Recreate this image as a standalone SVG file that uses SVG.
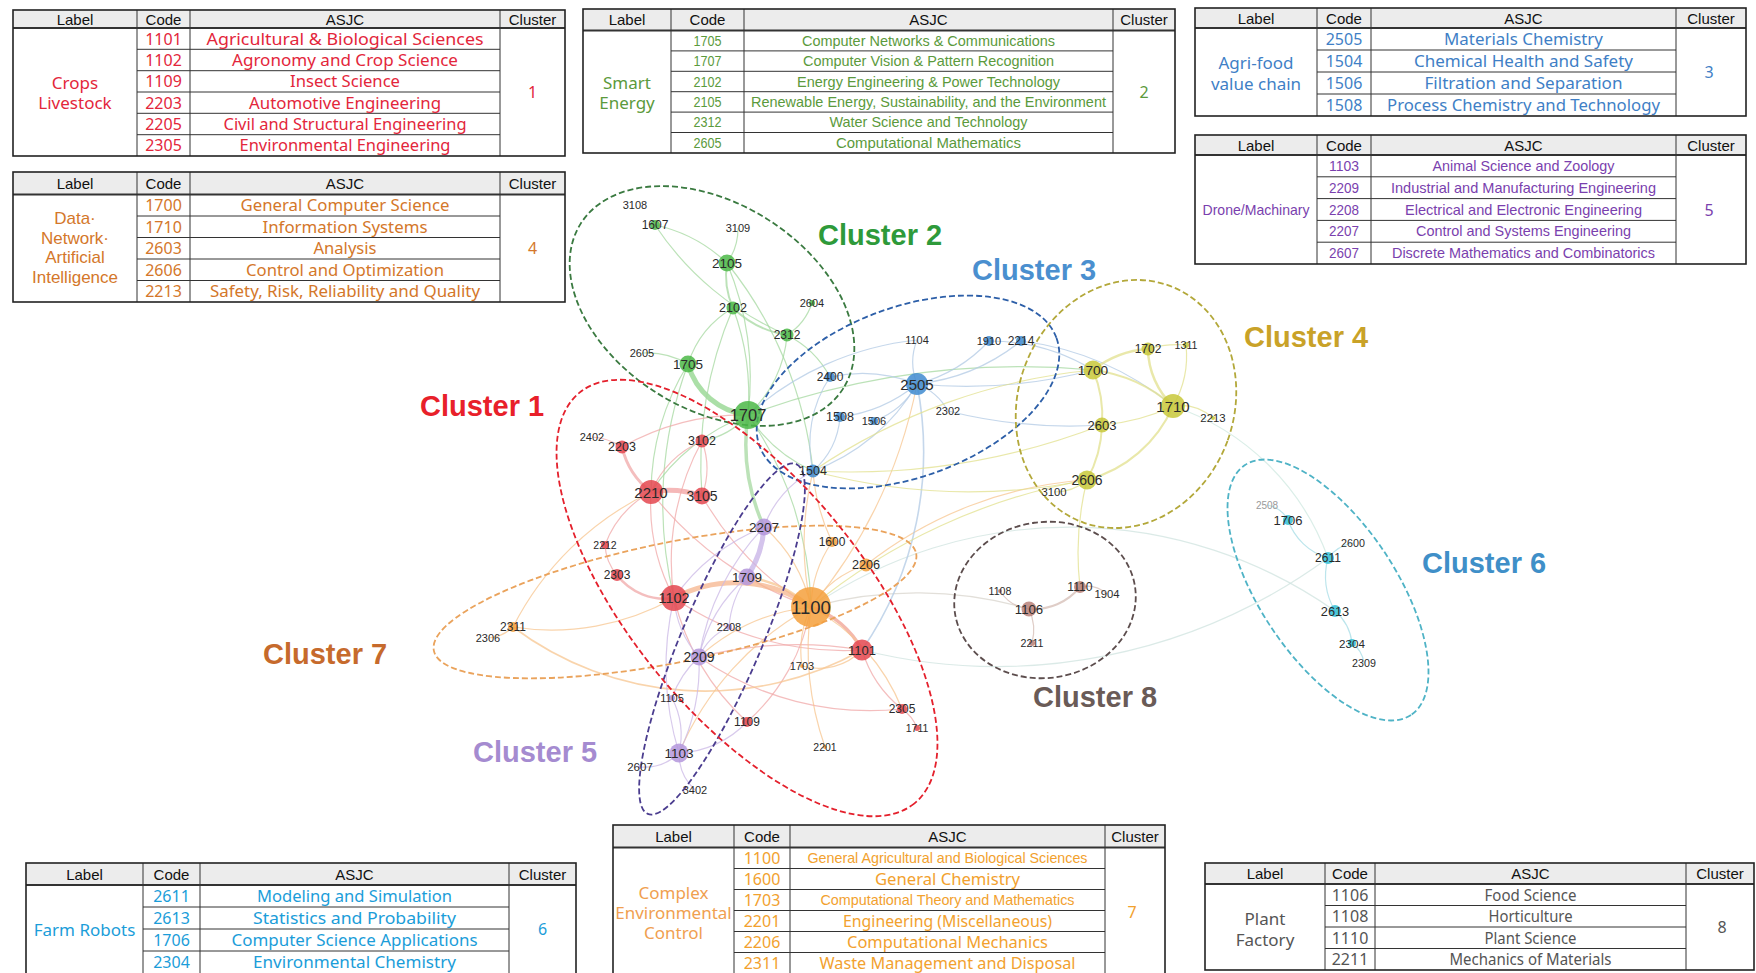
<svg xmlns="http://www.w3.org/2000/svg" width="1756" height="973" viewBox="0 0 1756 973">
<style>
.hd{fill:#ececec}
.ln{stroke:#333;stroke-width:1;fill:none}
.hl{stroke:#333;stroke-width:1.8;fill:none}
.bd{fill:none;stroke:#222;stroke-width:1.6}
.th{font-family:"Liberation Sans",Arial,sans-serif;font-size:15px;fill:#111;text-anchor:middle;dominant-baseline:central}
.td{font-family:"Noto Sans","Liberation Sans",sans-serif;font-size:16px;text-anchor:middle;dominant-baseline:central}
.tn{font-family:"Liberation Sans",Arial,sans-serif;font-size:14.5px;text-anchor:middle;dominant-baseline:central}
.lb{font-size:17px}
.lb2{font-family:"Liberation Sans",Arial,sans-serif;font-size:17px;text-anchor:middle;dominant-baseline:central}
.k1{fill:#e3263b}.k2{fill:#5b9a3c}.k3{fill:#3f7fc6}.k4{fill:#d4772a}.k5{fill:#7a3fae}.k6{fill:#1b9dd9}.k7{fill:#f2a12e}.k7l{fill:#f0a050}.k8{fill:#555}
.e{fill:none;stroke-width:1.2;stroke-opacity:.75}
.e1{stroke:#f0a8a8}.e2{stroke:#a6d8a0}.e3{stroke:#b2c9e4}.e4{stroke:#e2e08e}.e5{stroke:#cbb8e6}.e6{stroke:#a6dce6}.e7{stroke:#f7c690}.e8{stroke:#d4bcb4}
.hull{fill:none;stroke-width:1.8;stroke-dasharray:6 3}
.node circle{fill-opacity:.85}
.node text{font-family:"Liberation Sans",Arial,sans-serif;fill:#2a2a2a;text-anchor:middle;dominant-baseline:central}
.c1 circle{fill:#e4464f}.c2 circle{fill:#4cb848}.c3 circle{fill:#3f8bd0}.c4 circle{fill:#c8c83a}.c5 circle{fill:#b496dc}.c6 circle{fill:#33bfd6}.c7 circle{fill:#f5a03c}.c8 circle{fill:#b88078}
.cl{font-family:"Liberation Sans",Arial,sans-serif;font-size:29px;font-weight:bold}
</style>
<rect width="1756" height="973" fill="#fff"/>

<g id="connectors">
<g class="e e2">
<path d="M688 364A70 70 0 0 0 748 415" stroke-width="5" stroke="#8fd48a"/>
<path d="M748 415A200 200 0 0 0 764 527" stroke-width="3.5"/>
<path d="M655 225A150 150 0 0 1 727 263"/>
<path d="M655 225A300 300 0 0 0 787 335"/>
<path d="M738 228A60 60 0 0 1 727 263"/>
<path d="M727 263A80 80 0 0 0 733 308" stroke-width="2"/>
<path d="M727 263A300 300 0 0 1 748 415"/>
<path d="M733 308A100 100 0 0 0 787 335" stroke-width="2"/>
<path d="M733 308A100 100 0 0 0 688 364"/>
<path d="M733 308A250 250 0 0 1 748 415"/>
<path d="M787 335A60 60 0 0 0 812 303"/>
<path d="M787 335A120 120 0 0 1 748 415"/>
<path d="M787 335A100 100 0 0 1 830 377"/>
<path d="M642 353A80 80 0 0 1 688 364"/>
<path d="M688 364A250 250 0 0 0 651 492"/>
<path d="M688 364A400 400 0 0 0 674 598"/>
<path d="M727 263A400 400 0 0 1 813 471"/>
<path d="M748 415A80 80 0 0 1 702 441"/>
<path d="M748 415A350 350 0 0 1 811 607"/>
<path d="M748 415A150 150 0 0 0 813 471"/>
<path d="M748 415A200 200 0 0 0 651 492"/>
<path d="M733 308A400 400 0 0 0 702 496"/>
<path d="M748 415A800 800 0 0 1 1093 370"/>
</g>
<g class="e e1">
<path d="M651 492A100 100 0 0 1 702 496" stroke-width="5" stroke="#f2a0a0"/>
<path d="M811 607A90 90 0 0 1 862 650" stroke-width="3.5" stroke="#f0a090"/>
<path d="M622 447A80 80 0 0 0 651 492" stroke-width="3"/>
<path d="M617 575A60 60 0 0 0 674 598" stroke-width="2.5"/>
<path d="M592 437A60 60 0 0 1 622 447"/>
<path d="M702 441A80 80 0 0 1 702 496"/>
<path d="M702 441A100 100 0 0 0 651 492"/>
<path d="M702 441A250 250 0 0 0 674 598"/>
<path d="M651 492A200 200 0 0 0 674 598"/>
<path d="M605 545A50 50 0 0 0 617 575"/>
<path d="M605 545A100 100 0 0 1 651 492"/>
<path d="M862 650A120 120 0 0 0 902 709"/>
<path d="M902 709A40 40 0 0 1 917 728"/>
<path d="M862 650A300 300 0 0 1 674 598"/>
<path d="M747 722A250 250 0 0 1 674 598"/>
<path d="M747 722A200 200 0 0 0 811 607"/>
<path d="M699 657A300 300 0 0 0 902 709"/>
<path d="M862 650A400 400 0 0 0 699 657"/>
<path d="M651 492A350 350 0 0 0 811 607"/>
<path d="M702 496A300 300 0 0 0 811 607"/>
<path d="M622 447A250 250 0 0 1 748 415"/>
</g>
<g class="e e7">
<path d="M674 598A130 130 0 0 1 811 607" stroke-width="5" stroke="#f6b48c"/>
<path d="M747 577A120 120 0 0 1 811 607" stroke-width="2.5"/>
<path d="M811 607A120 120 0 0 1 832 542"/>
<path d="M811 607A100 100 0 0 1 866 565"/>
<path d="M811 607A100 100 0 0 0 802 666"/>
<path d="M811 607A300 300 0 0 0 825 747"/>
<path d="M811 607A200 200 0 0 1 902 709"/>
<path d="M811 607A200 200 0 0 0 699 657"/>
<path d="M811 607A150 150 0 0 0 764 527"/>
<path d="M811 607A300 300 0 0 1 813 471"/>
<path d="M811 607A300 300 0 0 0 679 753"/>
<path d="M513 627A320 320 0 0 0 862 650" stroke-width="1.6"/>
<path d="M513 627A40 40 0 0 1 488 638"/>
<path d="M513 627A300 300 0 0 1 651 492"/>
<path d="M513 627A250 250 0 0 0 674 598"/>
<path d="M811 607A400 400 0 0 1 1029 609" stroke="#d8d4cc"/>
<path d="M811 607A460 460 0 0 1 1335 611" stroke="#cfe3df"/>
<path d="M862 650A560 560 0 0 0 1328 558" stroke="#cfe3df"/>
<path d="M866 565A400 400 0 0 1 1087 480"/>
<path d="M832 542A200 200 0 0 1 813 471"/>
<path d="M811 607A500 500 0 0 0 917 384"/>
<path d="M802 666A60 60 0 0 0 862 650"/>
</g>
<g class="e e5">
<path d="M764 527A100 100 0 0 1 747 577" stroke-width="5" stroke="#c5b0e6"/>
<path d="M747 577A150 150 0 0 0 699 657"/>
<path d="M747 577A100 100 0 0 0 729 627"/>
<path d="M729 627A60 60 0 0 0 699 657"/>
<path d="M699 657A100 100 0 0 1 674 598"/>
<path d="M699 657A200 200 0 0 1 679 753"/>
<path d="M679 753A80 80 0 0 0 672 698"/>
<path d="M679 753A50 50 0 0 1 640 767"/>
<path d="M679 753A50 50 0 0 0 695 790"/>
<path d="M679 753A100 100 0 0 0 747 722"/>
<path d="M672 698A100 100 0 0 1 699 657"/>
<path d="M764 527A100 100 0 0 1 813 471"/>
<path d="M764 527A200 200 0 0 0 674 598"/>
<path d="M764 527A250 250 0 0 0 699 657"/>
<path d="M679 753A300 300 0 0 1 674 598"/>
</g>
<g class="e e3">
<path d="M917 384A60 60 0 0 1 917 340"/>
<path d="M917 384A150 150 0 0 0 989 341"/>
<path d="M917 384A200 200 0 0 0 1021 341"/>
<path d="M917 384A150 150 0 0 0 830 377"/>
<path d="M917 384A150 150 0 0 1 840 417"/>
<path d="M917 384A80 80 0 0 1 874 421"/>
<path d="M917 384A60 60 0 0 1 948 411"/>
<path d="M917 384A200 200 0 0 1 813 471"/>
<path d="M840 417A80 80 0 0 1 813 471"/>
<path d="M830 377A120 120 0 0 0 813 471"/>
<path d="M917 384A500 500 0 0 0 1093 370"/>
<path d="M989 341A200 200 0 0 1 1093 370"/>
<path d="M1021 341A300 300 0 0 1 1173 406"/>
<path d="M917 340A300 300 0 0 0 748 415"/>
<path d="M948 411A500 500 0 0 0 1102 425"/>
<path d="M917 384A350 350 0 0 1 862 650" stroke-width="1.6"/>
</g>
<g class="e e4">
<path d="M1093 370A100 100 0 0 1 1148 349" stroke-width="2.5"/>
<path d="M1148 349A80 80 0 0 0 1173 406" stroke-width="2.5"/>
<path d="M1093 370A150 150 0 0 1 1173 406" stroke-width="2"/>
<path d="M1087 480A130 130 0 0 0 1173 406" stroke-width="2"/>
<path d="M1093 370A120 120 0 0 1 1102 425" stroke-width="2"/>
<path d="M1102 425A120 120 0 0 1 1087 480" stroke-width="2"/>
<path d="M1148 349A100 100 0 0 1 1186 345"/>
<path d="M1186 345A100 100 0 0 1 1173 406"/>
<path d="M1102 425A200 200 0 0 0 1173 406"/>
<path d="M1173 406A50 50 0 0 1 1213 418"/>
<path d="M1087 480A50 50 0 0 1 1054 492"/>
<path d="M1087 480A600 600 0 0 0 811 607"/>
<path d="M1093 370A600 600 0 0 0 813 471"/>
<path d="M1087 480A600 600 0 0 1 813 471"/>
<path d="M1102 425A700 700 0 0 1 813 471"/>
<path d="M1173 406A250 250 0 0 1 1328 558" stroke="#cfe8e0"/>
<path d="M1087 480A300 300 0 0 0 1080 587"/>
</g>
<g class="e e8">
<path d="M1029 609A60 60 0 0 0 1080 587" stroke-width="2"/>
<path d="M1029 609A40 40 0 0 1 1000 591"/>
<path d="M1029 609A50 50 0 0 1 1032 643"/>
<path d="M1080 587A30 30 0 0 1 1107 594"/>
</g>
<g class="e e6">
<path d="M1288 520A60 60 0 0 0 1328 558"/>
<path d="M1267 505A30 30 0 0 1 1288 520"/>
<path d="M1328 558A40 40 0 0 1 1353 543"/>
<path d="M1328 558A70 70 0 0 0 1335 611"/>
<path d="M1335 611A50 50 0 0 1 1352 643"/>
<path d="M1352 643A30 30 0 0 1 1364 663"/>
</g>
</g>

<g id="cluster-outlines">
<ellipse class="hull" stroke="#3a7a40" cx="712" cy="306" rx="155" ry="103" transform="rotate(32 712 306)"/>
<ellipse class="hull" stroke="#2d5fa8" cx="908" cy="392" rx="158" ry="85" transform="rotate(-20 908 392)"/>
<ellipse class="hull" stroke="#b3a83a" cx="1126" cy="404" rx="108" ry="126" transform="rotate(20 1126 404)"/>
<ellipse class="hull" stroke="#eaa35c" cx="675" cy="602" rx="246" ry="60" transform="rotate(-11.4 675 602)"/>
<ellipse class="hull" stroke="#4b3d8f" cx="722" cy="639" rx="190" ry="40" transform="rotate(-67 722 639)"/>
<ellipse class="hull" stroke="#e4202c" cx="747" cy="598" rx="265" ry="117" transform="rotate(50.8 747 598)"/>
<ellipse class="hull" stroke="#5c4d4d" cx="1045" cy="600" rx="91" ry="78" transform="rotate(-8 1045 600)"/>
<ellipse class="hull" stroke="#4fb3c6" cx="1328" cy="590" rx="150" ry="68" transform="rotate(56.4 1328 590)"/>
</g>

<g id="nodes">
<g id="n2210" class="node c1"><circle cx="651" cy="492" r="12"/><text x="651" y="492" font-size="15">2210</text></g>
<g id="n3105" class="node c1"><circle cx="702" cy="496" r="8.5"/><text x="702" y="496" font-size="14">3105</text></g>
<g id="n2203" class="node c1"><circle cx="622" cy="447" r="6.5"/><text x="622" y="447" font-size="12.5">2203</text></g>
<g id="n3102" class="node c1"><circle cx="702" cy="441" r="6.5"/><text x="702" y="441" font-size="12.5">3102</text></g>
<g id="n2402" class="node c1"><text x="592" y="437" font-size="11">2402</text></g>
<g id="n1102" class="node c1"><circle cx="674" cy="598" r="13"/><text x="674" y="598" font-size="14.5">1102</text></g>
<g id="n2303" class="node c1"><circle cx="617" cy="575" r="6"/><text x="617" y="575" font-size="12">2303</text></g>
<g id="n2212" class="node c1"><circle cx="605" cy="545" r="4"/><text x="605" y="545" font-size="10.5">2212</text></g>
<g id="n1101" class="node c1"><circle cx="862" cy="650" r="10.5"/><text x="862" y="650" font-size="13">1101</text></g>
<g id="n2305" class="node c1"><circle cx="902" cy="709" r="5"/><text x="902" y="709" font-size="12">2305</text></g>
<g id="n1711" class="node c1"><circle cx="917" cy="728" r="3"/><text x="917" y="728" font-size="10.5">1711</text></g>
<g id="n1109" class="node c1"><circle cx="747" cy="722" r="5"/><text x="747" y="722" font-size="12">1109</text></g>

<g id="n1707" class="node c2"><circle cx="748" cy="415" r="14"/><text x="748" y="415" font-size="16.5">1707</text></g>
<g id="n1705" class="node c2"><circle cx="688" cy="364" r="8.5"/><text x="688" y="364" font-size="13.5">1705</text></g>
<g id="n2105" class="node c2"><circle cx="727" cy="263" r="8.5"/><text x="727" y="263" font-size="13.5">2105</text></g>
<g id="n2102" class="node c2"><circle cx="733" cy="308" r="6.5"/><text x="733" y="308" font-size="12.5">2102</text></g>
<g id="n2312" class="node c2"><circle cx="787" cy="335" r="6.5"/><text x="787" y="335" font-size="12">2312</text></g>
<g id="n1607" class="node c2"><circle cx="655" cy="225" r="5"/><text x="655" y="225" font-size="12">1607</text></g>
<g id="n2604" class="node c2"><circle cx="812" cy="303" r="3"/><text x="812" y="303" font-size="11">2604</text></g>
<g id="n2605" class="node c2"><text x="642" y="353" font-size="11">2605</text></g>
<g id="n3108" class="node c2"><text x="635" y="205" font-size="11">3108</text></g>
<g id="n3109" class="node c2"><text x="738" y="228" font-size="11">3109</text></g>

<g id="n2505" class="node c3"><circle cx="917" cy="384" r="11"/><text x="917" y="384" font-size="15">2505</text></g>
<g id="n2400" class="node c3"><circle cx="830" cy="377" r="5"/><text x="830" y="377" font-size="12">2400</text></g>
<g id="n1508" class="node c3"><circle cx="840" cy="417" r="5"/><text x="840" y="417" font-size="12.5">1508</text></g>
<g id="n1506" class="node c3"><circle cx="874" cy="421" r="4"/><text x="874" y="421" font-size="11">1506</text></g>
<g id="n1504" class="node c3"><circle cx="813" cy="471" r="6.5"/><text x="813" y="471" font-size="12.5">1504</text></g>
<g id="n1104" class="node c3"><text x="917" y="340" font-size="11">1104</text></g>
<g id="n1910" class="node c3"><circle cx="989" cy="341" r="5"/><text x="989" y="341" font-size="11">1910</text></g>
<g id="n2214" class="node c3"><circle cx="1021" cy="341" r="5"/><text x="1021" y="341" font-size="12">2214</text></g>
<g id="n2302" class="node c3"><text x="948" y="411" font-size="11">2302</text></g>

<g id="n1700" class="node c4"><circle cx="1093" cy="370" r="9.5"/><text x="1093" y="370" font-size="13.7">1700</text></g>
<g id="n1702" class="node c4"><circle cx="1148" cy="349" r="6.5"/><text x="1148" y="349" font-size="12">1702</text></g>
<g id="n1311" class="node c4"><circle cx="1186" cy="345" r="3"/><text x="1186" y="345" font-size="10.7">1311</text></g>
<g id="n1710" class="node c4"><circle cx="1173" cy="406" r="12"/><text x="1173" y="406" font-size="15">1710</text></g>
<g id="n2213" class="node c4"><circle cx="1213" cy="418" r="2"/><text x="1213" y="418" font-size="11.4">2213</text></g>
<g id="n2603" class="node c4"><circle cx="1102" cy="425" r="7.5"/><text x="1102" y="425" font-size="13">2603</text></g>
<g id="n2606" class="node c4"><circle cx="1087" cy="480" r="9.5"/><text x="1087" y="480" font-size="14">2606</text></g>
<g id="n3100" class="node c4"><text x="1054" y="492" font-size="11.3">3100</text></g>

<g id="n2207" class="node c5"><circle cx="764" cy="527" r="8.5"/><text x="764" y="527" font-size="13.5">2207</text></g>
<g id="n1709" class="node c5"><circle cx="747" cy="577" r="8.5"/><text x="747" y="577" font-size="13.5">1709</text></g>
<g id="n2208" class="node c5"><circle cx="729" cy="627" r="3"/><text x="729" y="627" font-size="11">2208</text></g>
<g id="n2209" class="node c5"><circle cx="699" cy="657" r="8.5"/><text x="699" y="657" font-size="14">2209</text></g>
<g id="n1105" class="node c5"><circle cx="672" cy="698" r="3"/><text x="672" y="698" font-size="11">1105</text></g>
<g id="n1103" class="node c5"><circle cx="679" cy="753" r="9.5"/><text x="679" y="753" font-size="13.5">1103</text></g>
<g id="n2607" class="node c5"><circle cx="640" cy="767" r="2"/><text x="640" y="767" font-size="11.5">2607</text></g>
<g id="n3402" class="node c5"><text x="695" y="790" font-size="11">3402</text></g>

<g id="n2508" class="node c6"><text x="1267" y="505" font-size="10" style="fill:#9a9a9a">2508</text></g>
<g id="n1706" class="node c6"><circle cx="1288" cy="520" r="5"/><text x="1288" y="520" font-size="13">1706</text></g>
<g id="n2600" class="node c6"><text x="1353" y="543" font-size="10.7">2600</text></g>
<g id="n2611" class="node c6"><circle cx="1328" cy="558" r="6"/><text x="1328" y="558" font-size="12">2611</text></g>
<g id="n2613" class="node c6"><circle cx="1335" cy="611" r="6"/><text x="1335" y="611" font-size="12.8">2613</text></g>
<g id="n2304" class="node c6"><circle cx="1352" cy="643" r="4"/><text x="1352" y="643" font-size="11.6">2304</text></g>
<g id="n2309" class="node c6"><text x="1364" y="663" font-size="10.7">2309</text></g>

<g id="n1100" class="node c7"><circle cx="811" cy="607" r="20"/><text x="811" y="607" font-size="18.5">1100</text></g>
<g id="n1600" class="node c7"><circle cx="832" cy="542" r="5"/><text x="832" y="542" font-size="12">1600</text></g>
<g id="n2206" class="node c7"><circle cx="866" cy="565" r="6.5"/><text x="866" y="565" font-size="12.7">2206</text></g>
<g id="n2311" class="node c7"><circle cx="513" cy="627" r="5"/><text x="513" y="627" font-size="12">2311</text></g>
<g id="n2306" class="node c7"><text x="488" y="638" font-size="11">2306</text></g>
<g id="n1703" class="node c7"><circle cx="802" cy="666" r="2"/><text x="802" y="666" font-size="11">1703</text></g>
<g id="n2201" class="node c7"><circle cx="825" cy="747" r="2"/><text x="825" y="747" font-size="10.5">2201</text></g>

<g id="n1106" class="node c8"><circle cx="1029" cy="609" r="7.5"/><text x="1029" y="609" font-size="13.2">1106</text></g>
<g id="n1110" class="node c8"><circle cx="1080" cy="587" r="6"/><text x="1080" y="587" font-size="12.2">1110</text></g>
<g id="n1108" class="node c8"><circle cx="1000" cy="591" r="2"/><text x="1000" y="591" font-size="10.7">1108</text></g>
<g id="n1904" class="node c8"><text x="1107" y="594" font-size="11.3">1904</text></g>
<g id="n2211" class="node c8"><circle cx="1032" cy="643" r="3"/><text x="1032" y="643" font-size="10.7">2211</text></g>
</g>

<g id="cluster-labels">
<text class="cl" x="420" y="416" fill="#e8202a">Cluster 1</text>
<text class="cl" x="818" y="245" fill="#2e9a3a">Cluster 2</text>
<text class="cl" x="972" y="280" fill="#4a8fcf">Cluster 3</text>
<text class="cl" x="1244" y="347" fill="#c9a228">Cluster 4</text>
<text class="cl" x="473" y="762" fill="#a58bd0">Cluster 5</text>
<text class="cl" x="1422" y="573" fill="#3f8fc8">Cluster 6</text>
<text class="cl" x="263" y="664" fill="#c66a2c">Cluster 7</text>
<text class="cl" x="1033" y="707" fill="#6a5b57">Cluster 8</text>
</g>

<g id="table-cluster1">
<rect class="hd" x="13" y="10" width="552" height="18"/>
<path class="ln" d="M137 10V156M190 10V156M500 10V156M137 49.3H500M137 70.7H500M137 92H500M137 113.3H500M137 134.7H500"/>
<path class="hl" d="M13 28H565"/>
<rect class="bd" x="13" y="10" width="552" height="146"/>
<text class="th" x="75" y="19">Label</text><text class="th" x="163.5" y="19">Code</text><text class="th" x="345" y="19">ASJC</text><text class="th" x="532.5" y="19">Cluster</text>
<text class="td lb k1" x="75" y="82">Crops</text><text class="td lb k1" x="75" y="102">Livestock</text>
<text class="td k1" x="163.5" y="38.7">1101</text><text class="td k1" x="345" y="38.7" textLength="277" lengthAdjust="spacingAndGlyphs">Agricultural &amp; Biological Sciences</text>
<text class="td k1" x="163.5" y="60">1102</text><text class="td k1" x="345" y="60" textLength="226" lengthAdjust="spacingAndGlyphs">Agronomy and Crop Science</text>
<text class="td k1" x="163.5" y="81.3">1109</text><text class="td k1" x="345" y="81.3" textLength="110" lengthAdjust="spacingAndGlyphs">Insect Science</text>
<text class="td k1" x="163.5" y="102.7">2203</text><text class="td k1" x="345" y="102.7" textLength="192" lengthAdjust="spacingAndGlyphs">Automotive Engineering</text>
<text class="td k1" x="163.5" y="124">2205</text><text class="td k1" x="345" y="124" textLength="243" lengthAdjust="spacingAndGlyphs">Civil and Structural Engineering</text>
<text class="td k1" x="163.5" y="145.3">2305</text><text class="td k1" x="345" y="145.3" textLength="211" lengthAdjust="spacingAndGlyphs">Environmental Engineering</text>
<text class="td k1" x="532.5" y="92">1</text>
</g>

<g id="table-cluster2">
<rect class="hd" x="583" y="9" width="592" height="21.5"/>
<path class="ln" d="M671 9V153M744 9V153M1113 9V153M671 50.9H1113M671 71.3H1113M671 91.7H1113M671 112.1H1113M671 132.5H1113"/>
<path class="hl" d="M583 30.5H1175"/>
<rect class="bd" x="583" y="9" width="592" height="144"/>
<text class="th" x="627" y="19.75">Label</text><text class="th" x="707.5" y="19.75">Code</text><text class="th" x="928.5" y="19.75">ASJC</text><text class="th" x="1144" y="19.75">Cluster</text>
<text class="td lb k2" x="627" y="82">Smart</text><text class="td lb k2" x="627" y="102">Energy</text>
<text class="tn k2" x="707.5" y="40.7" textLength="28" lengthAdjust="spacingAndGlyphs">1705</text><text class="tn k2" x="928.5" y="40.7" textLength="253" lengthAdjust="spacingAndGlyphs">Computer Networks &amp; Communications</text>
<text class="tn k2" x="707.5" y="61.1" textLength="28" lengthAdjust="spacingAndGlyphs">1707</text><text class="tn k2" x="928.5" y="61.1" textLength="251" lengthAdjust="spacingAndGlyphs">Computer Vision &amp; Pattern Recognition</text>
<text class="tn k2" x="707.5" y="81.5" textLength="28" lengthAdjust="spacingAndGlyphs">2102</text><text class="tn k2" x="928.5" y="81.5" textLength="263" lengthAdjust="spacingAndGlyphs">Energy Engineering &amp; Power Technology</text>
<text class="tn k2" x="707.5" y="101.9" textLength="28" lengthAdjust="spacingAndGlyphs">2105</text><text class="tn k2" x="928.5" y="101.9" textLength="355" lengthAdjust="spacingAndGlyphs">Renewable Energy, Sustainability, and the Environment</text>
<text class="tn k2" x="707.5" y="122.3" textLength="28" lengthAdjust="spacingAndGlyphs">2312</text><text class="tn k2" x="928.5" y="122.3" textLength="198" lengthAdjust="spacingAndGlyphs">Water Science and Technology</text>
<text class="tn k2" x="707.5" y="142.7" textLength="28" lengthAdjust="spacingAndGlyphs">2605</text><text class="tn k2" x="928.5" y="142.7" textLength="185" lengthAdjust="spacingAndGlyphs">Computational Mathematics</text>
<text class="td k2" x="1144" y="92">2</text>
</g>

<g id="table-cluster3">
<rect class="hd" x="1195" y="8" width="551" height="20"/>
<path class="ln" d="M1317 8V116M1371 8V116M1676 8V116M1317 50H1676M1317 72H1676M1317 94H1676"/>
<path class="hl" d="M1195 28H1746"/>
<rect class="bd" x="1195" y="8" width="551" height="108"/>
<text class="th" x="1256" y="18">Label</text><text class="th" x="1344" y="18">Code</text><text class="th" x="1523.5" y="18">ASJC</text><text class="th" x="1711" y="18">Cluster</text>
<text class="td lb k3" x="1256" y="62">Agri-food</text><text class="td lb k3" x="1256" y="83">value chain</text>
<text class="td k3" x="1344" y="39">2505</text><text class="td k3" x="1523.5" y="39" textLength="159" lengthAdjust="spacingAndGlyphs">Materials Chemistry</text>
<text class="td k3" x="1344" y="61">1504</text><text class="td k3" x="1523.5" y="61" textLength="219" lengthAdjust="spacingAndGlyphs">Chemical Health and Safety</text>
<text class="td k3" x="1344" y="83">1506</text><text class="td k3" x="1523.5" y="83" textLength="198" lengthAdjust="spacingAndGlyphs">Filtration and Separation</text>
<text class="td k3" x="1344" y="105">1508</text><text class="td k3" x="1523.5" y="105" textLength="273" lengthAdjust="spacingAndGlyphs">Process Chemistry and Technology</text>
<text class="td k3" x="1709" y="72">3</text>
</g>

<g id="table-cluster5">
<rect class="hd" x="1195" y="135" width="551" height="20"/>
<path class="ln" d="M1317 135V264M1371 135V264M1676 135V264M1317 176.8H1676M1317 198.6H1676M1317 220.4H1676M1317 242.2H1676"/>
<path class="hl" d="M1195 155H1746"/>
<rect class="bd" x="1195" y="135" width="551" height="129"/>
<text class="th" x="1256" y="145">Label</text><text class="th" x="1344" y="145">Code</text><text class="th" x="1523.5" y="145">ASJC</text><text class="th" x="1711" y="145">Cluster</text>
<text class="tn k5" x="1256" y="209.5" textLength="107" lengthAdjust="spacingAndGlyphs">Drone/Machinary</text>
<text class="tn k5" x="1344" y="165.9" textLength="30" lengthAdjust="spacingAndGlyphs">1103</text><text class="tn k5" x="1523.5" y="165.9" textLength="182" lengthAdjust="spacingAndGlyphs">Animal Science and Zoology</text>
<text class="tn k5" x="1344" y="187.7" textLength="30" lengthAdjust="spacingAndGlyphs">2209</text><text class="tn k5" x="1523.5" y="187.7" textLength="265" lengthAdjust="spacingAndGlyphs">Industrial and Manufacturing Engineering</text>
<text class="tn k5" x="1344" y="209.5" textLength="30" lengthAdjust="spacingAndGlyphs">2208</text><text class="tn k5" x="1523.5" y="209.5" textLength="237" lengthAdjust="spacingAndGlyphs">Electrical and Electronic Engineering</text>
<text class="tn k5" x="1344" y="231.3" textLength="30" lengthAdjust="spacingAndGlyphs">2207</text><text class="tn k5" x="1523.5" y="231.3" textLength="215" lengthAdjust="spacingAndGlyphs">Control and Systems Engineering</text>
<text class="tn k5" x="1344" y="253.1" textLength="30" lengthAdjust="spacingAndGlyphs">2607</text><text class="tn k5" x="1523.5" y="253.1" textLength="263" lengthAdjust="spacingAndGlyphs">Discrete Mathematics and Combinatorics</text>
<text class="td k5" x="1709" y="209.5">5</text>
</g>

<g id="table-cluster4">
<rect class="hd" x="13" y="172" width="552" height="22.5"/>
<path class="ln" d="M137 172V302M190 172V302M500 172V302M137 216H500M137 237.5H500M137 259H500M137 280.5H500"/>
<path class="hl" d="M13 194.5H565"/>
<rect class="bd" x="13" y="172" width="552" height="130"/>
<text class="th" x="75" y="183.25">Label</text><text class="th" x="163.5" y="183.25">Code</text><text class="th" x="345" y="183.25">ASJC</text><text class="th" x="532.5" y="183.25">Cluster</text>
<text class="lb2 k4" x="75" y="218.5">Data·</text><text class="lb2 k4" x="75" y="238">Network·</text><text class="lb2 k4" x="75" y="257.5">Artificial</text><text class="lb2 k4" x="75" y="277">Intelligence</text>
<text class="td k4" x="163.5" y="205.25">1700</text><text class="td k4" x="345" y="205.25" textLength="209" lengthAdjust="spacingAndGlyphs">General Computer Science</text>
<text class="td k4" x="163.5" y="226.75">1710</text><text class="td k4" x="345" y="226.75" textLength="165" lengthAdjust="spacingAndGlyphs">Information Systems</text>
<text class="td k4" x="163.5" y="248.25">2603</text><text class="td k4" x="345" y="248.25" textLength="63" lengthAdjust="spacingAndGlyphs">Analysis</text>
<text class="td k4" x="163.5" y="269.75">2606</text><text class="td k4" x="345" y="269.75" textLength="198" lengthAdjust="spacingAndGlyphs">Control and Optimization</text>
<text class="td k4" x="163.5" y="291.25">2213</text><text class="td k4" x="345" y="291.25" textLength="270" lengthAdjust="spacingAndGlyphs">Safety, Risk, Reliability and Quality</text>
<text class="td k4" x="532.5" y="248">4</text>
</g>

<g id="table-cluster6">
<rect class="hd" x="26" y="863" width="550" height="22"/>
<path class="ln" d="M143 863V980M200 863V980M509 863V980M143 907H509M143 929H509M143 951H509"/>
<path class="hl" d="M26 885H576"/>
<rect class="bd" x="26" y="863" width="550" height="117"/>
<text class="th" x="84.5" y="874">Label</text><text class="th" x="171.5" y="874">Code</text><text class="th" x="354.5" y="874">ASJC</text><text class="th" x="542.5" y="874">Cluster</text>
<text class="td lb k6" x="84.5" y="929">Farm Robots</text>
<text class="td k6" x="171.5" y="896">2611</text><text class="td k6" x="354.5" y="896" textLength="195" lengthAdjust="spacingAndGlyphs">Modeling and Simulation</text>
<text class="td k6" x="171.5" y="918">2613</text><text class="td k6" x="354.5" y="918" textLength="203" lengthAdjust="spacingAndGlyphs">Statistics and Probability</text>
<text class="td k6" x="171.5" y="940">1706</text><text class="td k6" x="354.5" y="940" textLength="246" lengthAdjust="spacingAndGlyphs">Computer Science Applications</text>
<text class="td k6" x="171.5" y="962">2304</text><text class="td k6" x="354.5" y="962" textLength="203" lengthAdjust="spacingAndGlyphs">Environmental Chemistry</text>
<text class="td k6" x="542.5" y="929">6</text>
</g>

<g id="table-cluster7">
<rect class="hd" x="613" y="825" width="552" height="22.5"/>
<path class="ln" d="M734 825V980M790 825V980M1105 825V980M734 868.5H1105M734 889.5H1105M734 910.5H1105M734 931.5H1105M734 952.5H1105"/>
<path class="hl" d="M613 847.5H1165"/>
<rect class="bd" x="613" y="825" width="552" height="155"/>
<text class="th" x="673.5" y="836">Label</text><text class="th" x="762" y="836">Code</text><text class="th" x="947.5" y="836">ASJC</text><text class="th" x="1135" y="836">Cluster</text>
<text class="td lb k7l" x="673.5" y="892">Complex</text><text class="td lb k7l" x="673.5" y="912">Environmental</text><text class="td lb k7l" x="673.5" y="932">Control</text>
<text class="td k7" x="762" y="858">1100</text><text class="tn k7" x="947.5" y="858" textLength="280" lengthAdjust="spacingAndGlyphs">General Agricultural and Biological Sciences</text>
<text class="td k7" x="762" y="879">1600</text><text class="td k7" x="947.5" y="879" textLength="145" lengthAdjust="spacingAndGlyphs">General Chemistry</text>
<text class="td k7" x="762" y="900">1703</text><text class="tn k7" x="947.5" y="900" textLength="254" lengthAdjust="spacingAndGlyphs">Computational Theory and Mathematics</text>
<text class="td k7" x="762" y="921">2201</text><text class="td k7" x="947.5" y="921" textLength="209" lengthAdjust="spacingAndGlyphs">Engineering (Miscellaneous)</text>
<text class="td k7" x="762" y="942">2206</text><text class="td k7" x="947.5" y="942" textLength="201" lengthAdjust="spacingAndGlyphs">Computational Mechanics</text>
<text class="td k7" x="762" y="963">2311</text><text class="td k7" x="947.5" y="963" textLength="256" lengthAdjust="spacingAndGlyphs">Waste Management and Disposal</text>
<text class="td k7" x="1132" y="912">7</text>
</g>

<g id="table-cluster8">
<rect class="hd" x="1205" y="863" width="549" height="21"/>
<path class="ln" d="M1325 863V970M1375 863V970M1686 863V970M1325 905.5H1686M1325 927H1686M1325 948.5H1686"/>
<path class="hl" d="M1205 884H1754"/>
<rect class="bd" x="1205" y="863" width="549" height="107"/>
<text class="th" x="1265" y="873.5">Label</text><text class="th" x="1350" y="873.5">Code</text><text class="th" x="1530.5" y="873.5">ASJC</text><text class="th" x="1720" y="873.5">Cluster</text>
<text class="td lb k8" x="1265" y="918">Plant</text><text class="td lb k8" x="1265" y="939">Factory</text>
<text class="td k8" x="1350" y="894.75">1106</text><text class="td k8" x="1530.5" y="894.75" textLength="92" lengthAdjust="spacingAndGlyphs">Food Science</text>
<text class="td k8" x="1350" y="916.25">1108</text><text class="td k8" x="1530.5" y="916.25" textLength="84" lengthAdjust="spacingAndGlyphs">Horticulture</text>
<text class="td k8" x="1350" y="937.75">1110</text><text class="td k8" x="1530.5" y="937.75" textLength="92" lengthAdjust="spacingAndGlyphs">Plant Science</text>
<text class="td k8" x="1350" y="959.25">2211</text><text class="td k8" x="1530.5" y="959.25" textLength="162" lengthAdjust="spacingAndGlyphs">Mechanics of Materials</text>
<text class="td k8" x="1722" y="927">8</text>
</g>
</svg>
